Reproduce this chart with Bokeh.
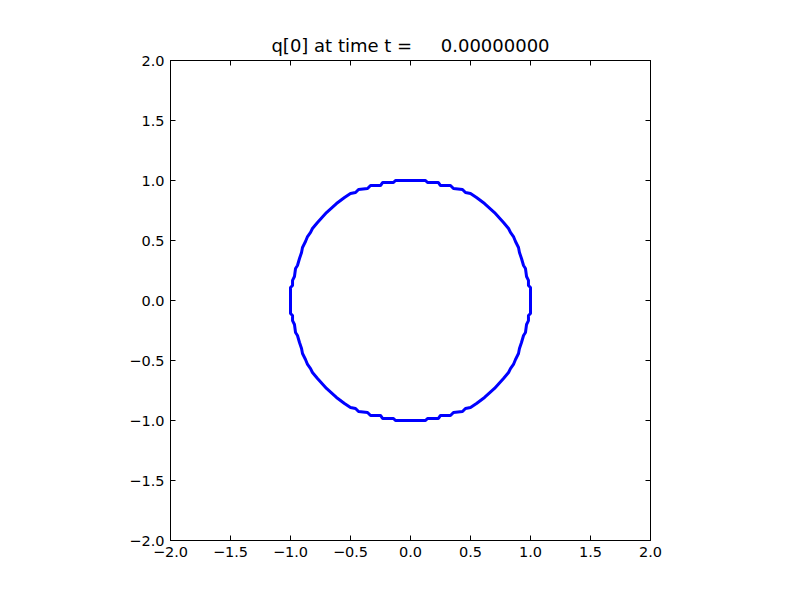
from bokeh.plotting import figure
from bokeh.models import LinearAxis, FixedTicker, CustomJSTickFormatter, Range1d
from bokeh.embed import file_html
from bokeh.resources import INLINE

# Contour of q[0] (level set), traced clockwise from the top
cx = [0.0, 0.125, 0.142, 0.233, 0.25, 0.333, 0.358, 0.433, 0.458, 0.5, 0.55, 0.617, 0.7, 0.775,
      0.817, 0.833, 0.858, 0.875, 0.9, 0.908, 0.925, 0.942, 0.958, 0.967, 0.983, 0.983, 1.0, 1.0,
      1.0, 1.0, 0.983, 0.983, 0.967, 0.958, 0.942, 0.925, 0.908, 0.9, 0.875, 0.858, 0.833, 0.817,
      0.775, 0.7, 0.617, 0.55, 0.5, 0.458, 0.433, 0.358, 0.333, 0.25, 0.233, 0.142, 0.125, 0.0,
      -0.0, -0.125, -0.142, -0.233, -0.25, -0.333, -0.358, -0.433, -0.458, -0.5, -0.55, -0.617,
      -0.7, -0.775, -0.817, -0.833, -0.858, -0.875, -0.9, -0.908, -0.925, -0.942, -0.958, -0.967,
      -0.983, -0.983, -1.0, -1.0,
      -1.0, -1.0, -0.983, -0.983, -0.967, -0.958, -0.942, -0.925, -0.908, -0.9, -0.875, -0.858,
      -0.833, -0.817, -0.775, -0.7, -0.617, -0.55, -0.5, -0.458, -0.433, -0.358, -0.333, -0.25,
      -0.233, -0.142, -0.125, 0.0]
cy = [1.0, 1.0, 0.983, 0.983, 0.958, 0.958, 0.933, 0.925, 0.9, 0.892, 0.858, 0.808, 0.733, 0.65,
      0.6, 0.567, 0.533, 0.492, 0.442, 0.4, 0.35, 0.292, 0.267, 0.2, 0.167, 0.125, 0.108, 0.0,
      -0.0, -0.108, -0.125, -0.167, -0.2, -0.267, -0.292, -0.35, -0.4, -0.442, -0.492, -0.533,
      -0.567, -0.6, -0.65, -0.733, -0.808, -0.858, -0.892, -0.9, -0.925, -0.933, -0.958, -0.958,
      -0.983, -0.983, -1.0, -1.0,
      -1.0, -1.0, -0.983, -0.983, -0.958, -0.958, -0.933, -0.925, -0.9, -0.892, -0.858, -0.808,
      -0.733, -0.65, -0.6, -0.567, -0.533, -0.492, -0.442, -0.4, -0.35, -0.292, -0.267, -0.2,
      -0.167, -0.125, -0.108, 0.0,
      0.0, 0.108, 0.125, 0.167, 0.2, 0.267, 0.292, 0.35, 0.4, 0.442, 0.492, 0.533, 0.567, 0.6,
      0.65, 0.733, 0.808, 0.858, 0.892, 0.9, 0.925, 0.933, 0.958, 0.958, 0.983, 0.983, 1.0, 1.0]

tick_values = [-2.0, -1.5, -1.0, -0.5, 0.0, 0.5, 1.0, 1.5, 2.0]
title_text = "q[0] at time t =     0.00000000"

FONT = "DejaVu Sans"

p = figure(output_backend="svg", toolbar_location=None,
           frame_width=480, frame_height=480,
           min_border_left=170, min_border_right=134,
           min_border_top=60, min_border_bottom=44,
           x_range=Range1d(-2, 2), y_range=Range1d(-2, 2),
           x_axis_location=None, y_axis_location=None,
           background_fill_color="white", border_fill_color="white")

p.title.text = title_text.replace(" ", "\u00a0")
p.title.text_font = FONT
p.title.text_font_size = "18px"
p.title.text_font_style = "normal"
p.title.align = "center"
p.title.text_color = "black"

p.grid.visible = False
p.outline_line_color = "black"
p.outline_line_width = 1

fmt = CustomJSTickFormatter(code="return tick.toFixed(1).replace('-', '\u2212');")

def make_axis(show_labels):
    ax = LinearAxis(ticker=FixedTicker(ticks=tick_values), formatter=fmt)
    ax.major_tick_in = 5
    ax.major_tick_out = 0
    ax.minor_tick_line_color = None
    ax.axis_line_color = "black"
    ax.major_tick_line_color = "black"
    ax.major_label_text_font = FONT
    ax.major_label_text_font_size = "14.5px"
    ax.major_label_text_color = "black" if show_labels else None
    ax.major_label_standoff = 6
    return ax

p.add_layout(make_axis(True), "below")
p.add_layout(make_axis(True), "left")
p.add_layout(make_axis(False), "above")
p.add_layout(make_axis(False), "right")

p.line(cx, cy, line_color="#0000ff", line_width=3)

open("out.html", "w").write(file_html(p, INLINE))
